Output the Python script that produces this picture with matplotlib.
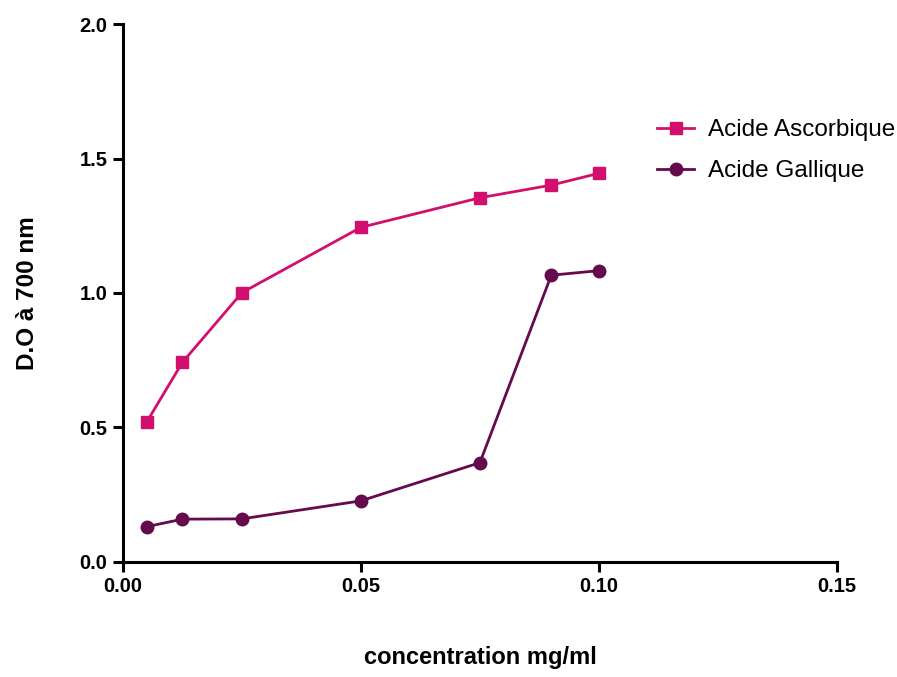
import matplotlib
matplotlib.use('Agg')
import matplotlib.pyplot as plt

plt.rcParams['font.family'] = ['Liberation Sans', 'DejaVu Sans']

# concentrations (mg/ml)
conc = [0.005, 0.0125, 0.025, 0.05, 0.075, 0.09, 0.10]
ascorbique = [0.52, 0.742, 1.001, 1.244, 1.354, 1.401, 1.445]
gallique = [0.131, 0.159, 0.160, 0.227, 0.369, 1.066, 1.083]

xticks = [0.00, 0.05, 0.10, 0.15]
yticks = [0.0, 0.5, 1.0, 1.5, 2.0]

fig = plt.figure(figsize=(8.97, 6.77), dpi=100)
ax = fig.add_axes([0.137, 0.170, 0.796, 0.7945])

ax.plot(conc, ascorbique, color='#d20f6c', lw=2, marker='s', ms=9,
        label='Acide Ascorbique')
ax.plot(conc, gallique, color='#650a4c', lw=2, marker='o', ms=9,
        label='Acide Gallique')

ax.set_xlim(0, 0.15)
ax.set_ylim(0, 2.0)
ax.set_xticks(xticks)
ax.set_xticklabels(['0.00', '0.05', '0.10', '0.15'])
ax.set_yticks(yticks)
ax.set_yticklabels(['0.0', '0.5', '1.0', '1.5', '2.0'])

for s in ['top', 'right']:
    ax.spines[s].set_visible(False)
for s in ['left', 'bottom']:
    ax.spines[s].set_linewidth(2.2)
ax.tick_params(width=2.2, length=7, direction='out', labelsize=14.5, pad=4)
for lab in ax.get_xticklabels() + ax.get_yticklabels():
    lab.set_fontweight('bold')

ax.set_xlabel('concentration mg/ml', fontsize=17, fontweight='bold', labelpad=36)
ax.set_ylabel('D.O à 700 nm', fontsize=17.5, fontweight='bold', labelpad=29)

ax.legend(loc='upper left', bbox_to_anchor=(0.718, 0.864), frameon=False,
          fontsize=17.5, handlelength=1.5, handletextpad=0.6,
          labelspacing=0.78)

fig.savefig('out.png', dpi=100)
